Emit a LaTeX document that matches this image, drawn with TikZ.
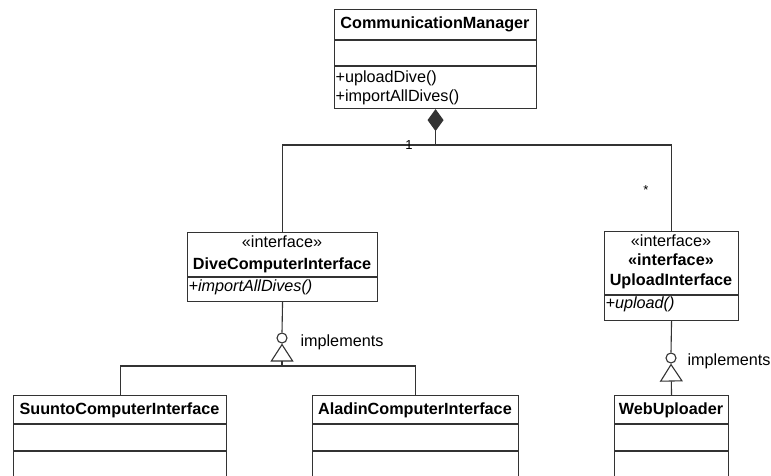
\documentclass[tikz,border=0pt]{standalone}
\usepackage{fontspec}
\setmainfont{Liberation Sans}
\usetikzlibrary{%
	calc,%
	arrows.meta,%
	positioning%
}

\begin{document}
\begin{tikzpicture}
		[x=1pt,y=-1pt,
		font=\fontsize{16.2}{19}\selectfont,
		line width=1.1pt,draw=black!80,
		classbox/.style={draw=black!80,rectangle,inner sep=0pt,anchor=north west},
		cname/.style={font=\fontsize{16.2}{19}\selectfont\bfseries,anchor=base,inner sep=0pt},
		stereo/.style={anchor=base,inner sep=0pt},
		oper/.style={anchor=base west,inner sep=0pt},
		ring/.style={draw=black!80,circle,inner sep=0pt,minimum size=10pt,fill=white},
		realize/.style={-{Triangle[open,length=18pt,width=23pt]}},
		compose/.style={-{Diamond[length=22pt,width=16pt]}},
		mult/.style={font=\fontsize{13}{15}\selectfont,inner sep=0pt}
		]
		\clip (0,0) rectangle (771,475);
		
		% manager
		\node[classbox,minimum width=202pt,minimum height=99pt] (cm) at (334,9) {};
		\draw (cm.west |- 0,40) -- (cm.east |- 0,40);
		\draw (cm.west |- 0,66) -- (cm.east |- 0,66);
		\node[cname] (cmname) at (435,28) {CommunicationManager};
		\node[oper] (cmop1) at (335,82) {+uploadDive()};
		\node[oper] (cmop2) at (335,101) {+importAllDives()};
		
		% interfaces
		\node[classbox,minimum width=190pt,minimum height=69pt] (dci) at (187,232) {};
		\draw (dci.west |- 0,277) -- (dci.east |- 0,277);
		\node[stereo] (dcistereo) at (282,247) {«interface»};
		\node[cname] (dciname) at (282,269) {DiveComputerInterface};
		\node[oper] (dciop) at (188,291) {\itshape +importAllDives()};
		
		\node[classbox,minimum width=134pt,minimum height=89pt] (ui) at (604,231) {};
		\draw (ui.west |- 0,295) -- (ui.east |- 0,295);
		\node[stereo] (uistereo) at (671,246) {«interface»};
		\node[cname] (uistereob) at (671,265) {«interface»};
		\node[cname] (uiname) at (671,285) {UploadInterface};
		\node[oper] (uiop) at (605,308) {\itshape +upload()};
		
		% implementations
		\node[classbox,minimum width=213pt,minimum height=100pt] (suunto) at (13,395) {};
		\draw (suunto.west |- 0,424) -- (suunto.east |- 0,424);
		\draw (suunto.west |- 0,451) -- (suunto.east |- 0,451);
		\node[cname] (suuntoname) at (119.5,414) {SuuntoComputerInterface};
		
		\node[classbox,minimum width=206pt,minimum height=100pt] (aladin) at (312,395) {};
		\draw (aladin.west |- 0,424) -- (aladin.east |- 0,424);
		\draw (aladin.west |- 0,451) -- (aladin.east |- 0,451);
		\node[cname] (aladinname) at (415,414) {AladinComputerInterface};
		
		\node[classbox,minimum width=114pt,minimum height=100pt] (web) at (614,395) {};
		\draw (web.west |- 0,424) -- (web.east |- 0,424);
		\draw (web.west |- 0,451) -- (web.east |- 0,451);
		\node[cname] (webname) at (671,414) {WebUploader};
		
		% composition
		\coordinate (jn) at (cm.south |- 0,145);
		\draw (dci.north) |- (jn);
		\draw (ui.north) |- (jn);
		\draw[compose] (jn) -- (cm.south);
		\node[mult] (one) at (409,145) {1};
		\node[mult] (many) at (646,190) {*};
		
		% realization
		\node[ring] (dciring) at (282,338) {};
		\coordinate (dcibar) at (282,366);
		\draw (dci.south) -- (dciring.north);
		\draw[realize] (dcibar) -- (dciring.south);
		\draw (suunto.north) |- (dcibar) -| (aladin.north);
		\node[oper] (dcilabel) at (300,346) {implements};
		
		\node[ring] (uiring) at (671,358) {};
		\draw (ui.south) -- (uiring.north);
		\draw[realize] (web.north) -- (uiring.south);
		\node[oper] (uilabel) at (687,365) {implements};
	\end{tikzpicture}
\end{document}
